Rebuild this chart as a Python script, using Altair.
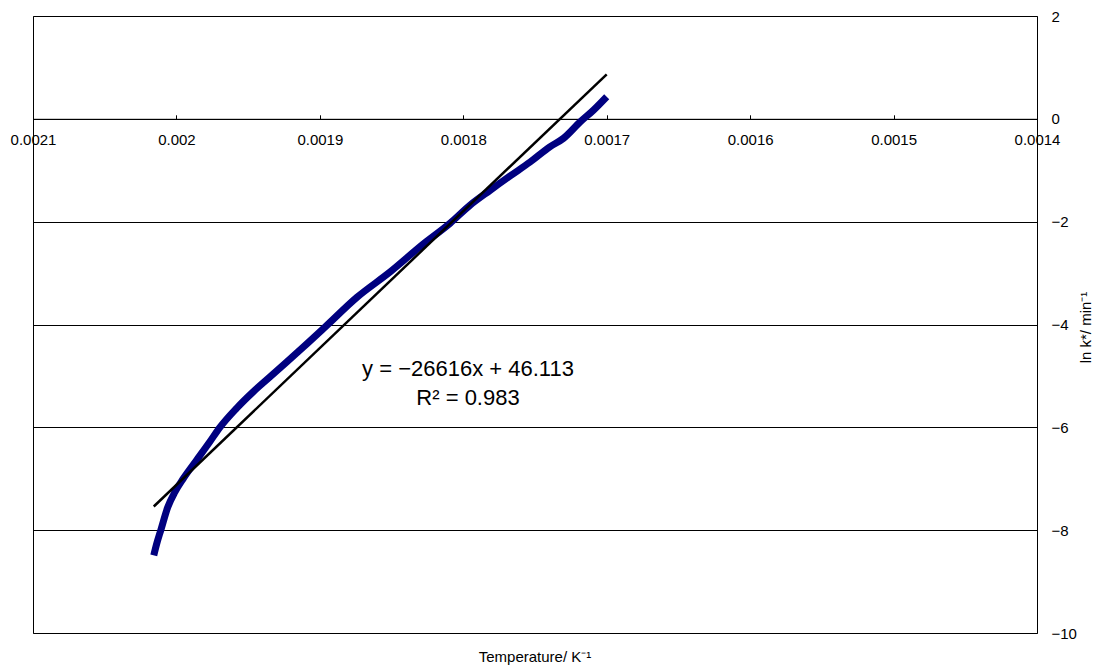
import altair as alt
import pandas as pd

# Data
inv_T = [0.0020158, 0.0020137, 0.0020109, 0.0020060, 0.0020011, 0.0019953, 0.0019860,
         0.0019767, 0.0019697, 0.0019581, 0.0019465, 0.0019348, 0.0019232, 0.0019116,
         0.0018964, 0.0018741, 0.0018511, 0.0018281, 0.0018092, 0.0017953, 0.0017813,
         0.0017673, 0.0017534, 0.0017394, 0.0017302, 0.0017185, 0.0017092, 0.0017000]
lnk = [-8.49, -8.26, -8.00, -7.55, -7.26, -7.00, -6.64, -6.28, -6.00, -5.63, -5.31,
       -5.02, -4.73, -4.44, -4.05, -3.47, -2.98, -2.44, -2.03, -1.68, -1.39, -1.11,
       -0.84, -0.54, -0.38, -0.06, 0.17, 0.43]

slope = -26616
intercept = 46.113
r2 = 0.983

x_ticks = [0.0021, 0.002, 0.0019, 0.0018, 0.0017, 0.0016, 0.0015, 0.0014]
y_ticks = [2, 0, -2, -4, -6, -8, -10]

eq_lines = ["y = −26616x + 46.113", "R² = 0.983"]
eq_x = [0.0017967, 0.0017967]
eq_y = [-4.87, -5.43]

FONT = "Liberation Sans"

df = pd.DataFrame({"x": inv_T, "y": lnk, "i": list(range(len(inv_T)))})
tx = [min(inv_T), max(inv_T)]
trend = pd.DataFrame({"x": tx, "y": [slope * v + intercept for v in tx]})
ann = pd.DataFrame({"x": eq_x, "y": eq_y, "t": eq_lines})

xscale = alt.Scale(domain=[0.0014, 0.0021], reverse=True, nice=False, zero=False)
yscale = alt.Scale(domain=[-10, 2], nice=False, zero=False)

xaxis = alt.Axis(
    orient="top", offset=-102.8, values=x_ticks, format="~g", grid=False,
    domainColor="black", domainWidth=1, tickColor="black", tickSize=4,
    labelBaseline="top", labelPadding=-18, labelFont=FONT, labelFontSize=15,
    labelColor="black", labelFlush=False, labelOverlap=False, labelBound=False,
    title=None,
)
yaxis = alt.Axis(
    orient="right", values=y_ticks, grid=True, gridColor="black", gridWidth=1,
    domain=False, ticks=False, tickSize=0, labelPadding=14, labelFont=FONT,
    labelFontSize=15, labelColor="black", labelAlign="left",
    title="ln k*/ min⁻¹", titleFont=FONT, titleFontSize=15, titleFontWeight="normal",
    titleColor="black", titleAngle=270, titleX=48, titleY=311,
    titleAlign="center", titleBaseline="middle",
)

curve = alt.Chart(df).mark_line(color="#000080", strokeWidth=7,
                                interpolate="monotone").encode(
    x=alt.X("x:Q", scale=xscale, axis=xaxis),
    y=alt.Y("y:Q", scale=yscale, axis=yaxis),
    order="i:Q",
)
trend_line = alt.Chart(trend).mark_line(color="black", strokeWidth=2.5).encode(
    x=alt.X("x:Q", scale=xscale),
    y=alt.Y("y:Q", scale=yscale),
)
text = alt.Chart(ann).mark_text(font=FONT, fontSize=22, color="black",
                                align="center", baseline="middle").encode(
    x=alt.X("x:Q", scale=xscale),
    y=alt.Y("y:Q", scale=yscale),
    text="t:N",
)

chart = alt.layer(curve, trend_line, text).properties(
    width=1004, height=617,
    autosize=alt.AutoSizeParams(type="none"),
    padding={"left": 25, "top": 8, "right": 58, "bottom": 33},
    title=alt.TitleParams("Temperature/ K⁻¹", orient="bottom", font=FONT,
                          fontSize=15, fontWeight="normal", color="black",
                          offset=9, anchor="middle"),
).configure_view(stroke="black", strokeWidth=1)

chart.save("out.html", embed_options={"renderer": "svg", "actions": False})
